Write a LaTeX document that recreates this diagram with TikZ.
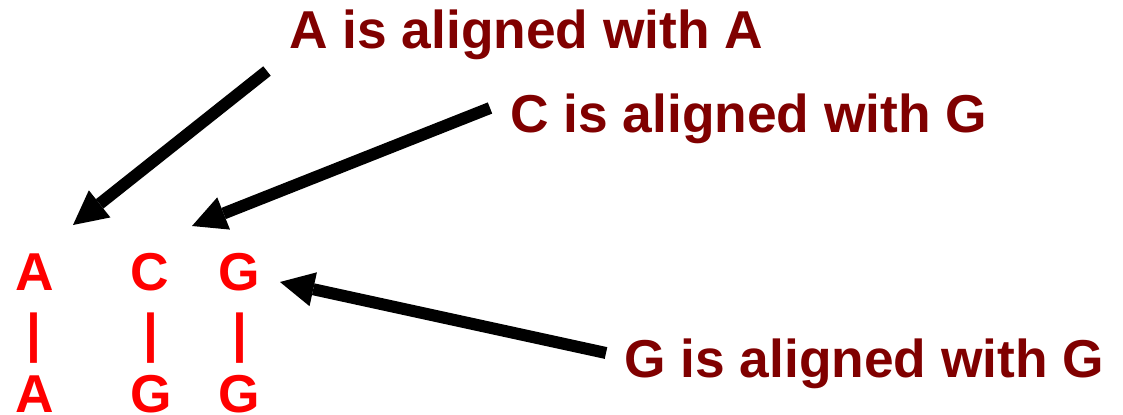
\documentclass[tikz,border=0pt]{standalone}
\usepackage{fontspec}
\setmainfont{Liberation Sans}
\usetikzlibrary{arrows.meta}
\definecolor{notered}{RGB}{128,0,0}
\definecolor{seqred}{RGB}{255,0,0}
\tikzset{
  pointer/.style={-{Triangle[length=25.5pt, width=26pt, line width=0pt]}, line width=9pt, draw=black},
  caption/.style={font=\fontsize{40}{46}\selectfont\bfseries, text=notered, inner sep=0pt, anchor=base west},
  letter/.style={font=\fontsize{40}{46}\selectfont\bfseries, text=seqred, inner sep=0pt, anchor=base},
}
\begin{document}
\begin{tikzpicture}[x=0.75pt,y=-0.75pt]

  \useasboundingbox (0,0) rectangle (1123,414);

  % Aligned sequences.
  \node[letter] (topA) at (35,290) {A};
  \node[letter] (topC) at (150,290) {C};
  \node[letter] (topG) at (239,290) {G};
  \node[letter] (barA) at (34,351) {|};
  \node[letter] (barC) at (151,351) {|};
  \node[letter] (barG) at (240,351) {|};
  \node[letter] (botA) at (35,412) {A};
  \node[letter] (botG) at (151,412) {G};
  \node[letter] (botGG) at (239,412) {G};

  % Captions.
  \node[caption] (alignAA) at (289,48) {A is aligned with A};
  \node[caption] (alignCG) at (510,132) {C is aligned with G};
  \node[caption] (alignGG) at (624,377) {G is aligned with G};

  % Pointers from captions to columns.
  \coordinate (tailAA) at (267,71);
  \coordinate (tipAA) at (73,225);
  \coordinate (tailCG) at (490,108);
  \coordinate (tipCG) at (192,226);
  \coordinate (tailGG) at (606,353);
  \coordinate (tipGG) at (280,282);
  \draw[pointer] (tailAA) -- (tipAA);
  \draw[pointer] (tailCG) -- (tipCG);
  \draw[pointer] (tailGG) -- (tipGG);

\end{tikzpicture}
\end{document}
